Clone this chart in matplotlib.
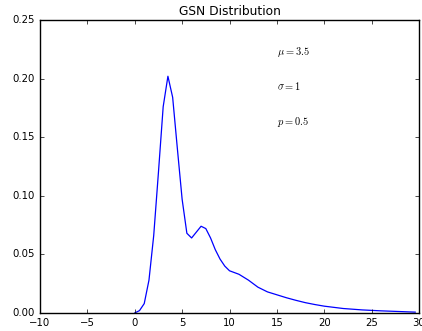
import matplotlib
matplotlib.use('Agg')
import matplotlib.pyplot as plt
import numpy as np

# values (x step 0.5 near the peak)
x_vals = [0.0, 0.5, 1.0, 1.5, 2.0, 2.5, 3.0, 3.5, 4.0, 4.5, 5.0, 5.5, 6.0,
          6.5, 7.0, 7.5, 8.0, 8.5, 9.0, 9.5, 10.0, 11.0, 12.0, 13.0, 14.0,
          15.0, 16.0, 17.0, 18.0, 19.0, 20.0, 22.0, 24.0, 26.0, 28.0, 29.6]
y_vals = [0.0, 0.002, 0.008, 0.028, 0.066, 0.120, 0.176, 0.202, 0.184,
          0.140, 0.097, 0.068, 0.064, 0.069, 0.074, 0.072, 0.064, 0.054,
          0.046, 0.040, 0.036, 0.033, 0.028, 0.022, 0.018, 0.0155, 0.0130,
          0.0108, 0.0088, 0.0072, 0.0058, 0.0038, 0.0026, 0.0018, 0.0012,
          0.0007]

params = [r'$\mu = 3.5$', r'$\sigma = 1$', r'$p = 0.5$']
param_y = [0.22, 0.19, 0.16]

plt.style.use('classic')
fig = plt.figure(figsize=(4.22, 3.31), dpi=100)
ax = fig.add_subplot(111)
fig.subplots_adjust(left=0.0948, right=0.9929, top=0.9396, bottom=0.0545)

ax.plot(x_vals, y_vals, color='b', linewidth=0.9)
for label, yy in zip(params, param_y):
    ax.text(15, yy, label, fontsize=7.5)

ax.set_xlim(-10, 30)
ax.set_ylim(0, 0.25)
ax.set_title('GSN Distribution', fontsize=8.8, pad=3.6)
ax.tick_params(labelsize=7.3, length=3, pad=3.5)

fig.savefig('out.png', dpi=100)
